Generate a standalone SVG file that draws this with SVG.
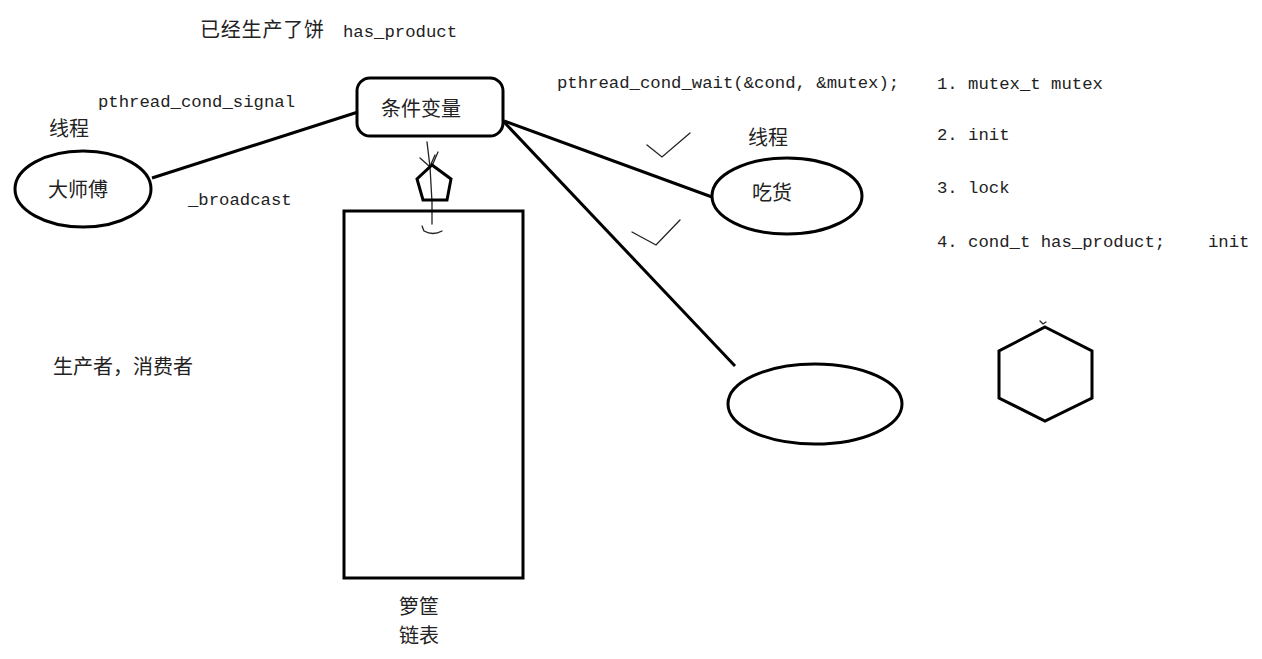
<svg xmlns="http://www.w3.org/2000/svg" width="1262" height="659" viewBox="0 0 1262 659">
<style>
.cjk{font-family:"Noto Sans CJK SC","Noto Sans",sans-serif;font-size:20px;fill:#222}
.mono{font-family:"Liberation Mono",monospace;font-size:17.3px;fill:#222}
.shape{fill:none;stroke:#000;stroke-width:3}
.thin{fill:none;stroke:#222;stroke-width:1.3;stroke-linecap:round}
</style>
<rect width="1262" height="659" fill="#fff"/>
<g id="labels">
<text class="cjk" x="200" y="37" letter-spacing="0.8">已经生产了饼</text>
<text class="mono" x="343" y="37">has_product</text>
<text class="mono" x="98" y="107">pthread_cond_signal</text>
<text class="cjk" x="49" y="136">线程</text>
<text class="mono" x="188" y="205">_broadcast</text>
<text class="mono" x="557" y="88">pthread_cond_wait(&amp;cond, &amp;mutex);</text>
<text class="cjk" x="748" y="145">线程</text>
<text class="cjk" x="53" y="374">生产者，消费者</text>
<text class="mono" x="937" y="89" xml:space="preserve">1. mutex_t mutex</text>
<text class="mono" x="937" y="140" xml:space="preserve">2. init</text>
<text class="mono" x="937" y="193" xml:space="preserve">3. lock</text>
<text class="mono" x="937" y="247" xml:space="preserve">4. cond_t has_product;</text>
<text class="mono" x="1208" y="247">init</text>
</g>
<g id="connectors">
<line class="shape" x1="152" y1="178" x2="358" y2="112"/>
<line class="shape" x1="504" y1="121" x2="712" y2="197"/>
<line class="shape" x1="504" y1="122" x2="735" y2="366"/>
<path class="thin" d="M427 142 L430 167 L432 202 L432 224"/>
<path class="thin" d="M420 158 L429 166 M438 152 L432 166 M435 155 L431 164"/>
<path class="thin" d="M422 226 L424 231 Q433 236 442 231"/>
<path class="thin" d="M647 145 L662 157 L690 133"/>
<path class="thin" d="M632 232 L656 245 L680 220"/>
<path class="thin" d="M1040 321 L1043 324 L1046 322"/>
</g>
<g id="node-dashifu">
<ellipse class="shape" cx="83" cy="189" rx="68" ry="38"/>
<text class="cjk" x="78" y="197" text-anchor="middle">大师傅</text>
</g>
<g id="node-cond">
<rect class="shape" x="357" y="78" width="146" height="58" rx="13" ry="13"/>
<text class="cjk" x="421" y="116" text-anchor="middle">条件变量</text>
</g>
<g id="node-pentagon">
<polygon class="shape" points="432,165 451,179 447,200 423,200 417,179"/>
</g>
<g id="node-basket">
<rect class="shape" x="344" y="211" width="179" height="367"/>
<text class="cjk" x="419" y="614" text-anchor="middle">箩筐</text>
<text class="cjk" x="419" y="643" text-anchor="middle">链表</text>
</g>
<g id="node-chihuo">
<ellipse class="shape" cx="787" cy="196" rx="75" ry="38"/>
<text class="cjk" x="772" y="200" text-anchor="middle">吃货</text>
</g>
<g id="node-empty">
<ellipse class="shape" cx="815" cy="404" rx="87" ry="40"/>
</g>
<g id="node-hexagon">
<polygon class="shape" points="1045,327 1092,351 1092,398 1045,421 999,398 999,351"/>
</g>
</svg>
